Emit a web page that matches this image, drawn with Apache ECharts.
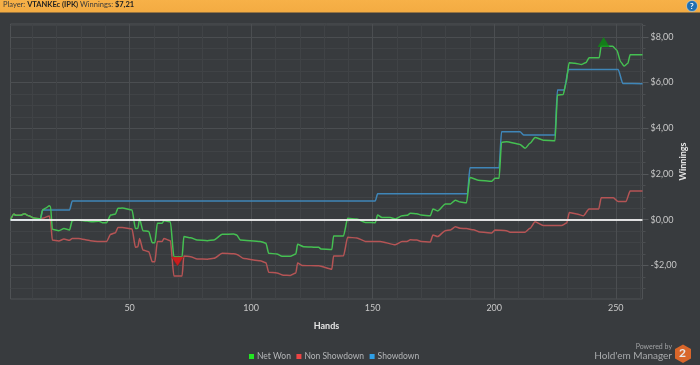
<!DOCTYPE html>
<html>
<head>
<meta charset="utf-8">
<title>Winnings</title>
<style>
    html, body { margin: 0; padding: 0; background: #383b3e; }
    #chart { width: 700px; height: 365px; }
</style>
<script src="https://cdn.jsdelivr.net/npm/echarts@6/dist/echarts.min.js"></script>
</head>
<body>
<div id="chart"></div>
<script>
// values
let netWonHands = [1, 2.4, 3.1, 5.1, 6.8, 8.5, 10.6, 13.3, 14.2, 15.4, 17, 17.5, 18.2, 20.9, 23, 25.3, 26.4, 28.4, 32.5, 34.6, 37.4, 38.7, 40.5, 42.2, 44.2, 45.2, 47, 51, 52.4, 53.4, 54.1, 55.5, 57.9, 59.3, 60.4, 61.4, 63.4, 64.1, 66.8, 68.2, 71.6, 72.3, 75.1, 77.8, 82, 84.7, 88.1, 92.8, 94.1, 95.5, 103.7, 106.1, 107.2, 110.6, 112.7, 116.1, 118.4, 119.1, 121.6, 127.8, 128.7, 133.2, 133.9, 138, 139.7, 143.5, 147, 151.1, 152, 153.8, 157.2, 159.3, 162.1, 164.1, 165.5, 168.2, 169.9, 173.7, 174.8, 176.7, 179.9, 182, 184, 186, 188.6, 190, 193.4, 199, 200.3, 202, 203, 205.1, 210.6, 212.7, 214.7, 216.8, 220.2, 225, 226, 228.4, 229.5, 230.8, 233.2, 236, 237.8, 239, 243.2, 244, 248.7, 250.4, 252, 253.4, 255, 255.9, 261];
let netWon = [0, .25, .19, .19, .26, .17, .07, .04, .42, .5, .61, .57, -.42, -.48, -.39, -.45, -.04, -.01, -.06, -.09, -.07, -.13, -.13, .2, .25, .5, .51, .42, -.39, -.38, .03, -.48, -.52, -1.01, -1.01, -.16, -.16, -.04, -.1, -1.62, -1.62, -.74, -.79, -.89, -.92, -.89, -.64, -.63, -.67, -.89, -.95, -1.03, -1.47, -1.5, -1.6, -1.6, -1.5, -1.08, -1.18, -1.21, -1.28, -1.31, -.71, -.71, .06, .03, -.12, -.13, .2, .1, .09, .03, .17, .19, .28, .26, .2, .17, .47, .38, .69, .69, .85, .77, .74, 1.85, 1.73, 1.68, 1.81, 1.81, 3.38, 3.41, 3.29, 3.12, 3.34, 3.6, 3.48, 3.45, 5.45, 5.48, 5.96, 6.87, 6.84, 6.79, 6.88, 7.08, 7.08, 7.59, 7.59, 7.42, 6.91, 6.72, 6.84, 7.22, 7.22];

let nonShowdownHands = [1, 2.4, 3.1, 5.1, 6.8, 8.5, 10.6, 13.3, 14.2, 17, 17.5, 18.2, 20.9, 23, 25.3, 26.4, 29, 33.9, 37.4, 40.5, 42.2, 44.2, 45.2, 47, 51, 52.4, 53.4, 54.1, 55.5, 57.9, 59.3, 60.4, 61.4, 63.4, 64.1, 66.8, 68.2, 71.6, 72.3, 75.1, 77.8, 82, 84.7, 88.1, 92.8, 94.1, 97, 103.7, 106.1, 107.2, 110.6, 113.3, 116.1, 118.4, 119.1, 120.9, 127.8, 133.2, 133.9, 138, 139.7, 143.5, 147, 153.1, 159.3, 162.1, 164.1, 165.5, 168.2, 169.9, 173.7, 174.8, 176.7, 179.9, 182, 184, 186, 188.6, 191.4, 194.1, 199, 200.3, 205, 206.5, 212.7, 214.7, 216.8, 220.2, 227.7, 229.8, 230.9, 234, 236.7, 239, 243, 244, 249, 251, 254.2, 255.9, 261];
let nonShowdown = [0, .25, .19, .19, .26, .17, .07, .04, .06, .16, -.09, -.89, -.93, -.85, -.9, -.82, -.82, -.92, -.96, -.96, -.64, -.57, -.34, -.34, -.41, -1.21, -1.18, -.82, -1.33, -1.4, -1.84, -1.84, -.96, -.96, -.82, -.92, -2.46, -2.46, -1.59, -1.62, -1.72, -1.73, -1.69, -1.47, -1.49, -1.52, -1.7, -1.8, -1.88, -2.3, -2.33, -2.43, -2.44, -2.33, -1.89, -2, -2.02, -2.17, -1.59, -1.58, -.77, -.8, -.95, -.95, -1.1, -.96, -.95, -.88, -.89, -.95, -.98, -.67, -.74, -.48, -.45, -.31, -.38, -.39, -.44, -.54, -.58, -.45, -.48, -.55, -.55, -.38, -.09, -.25, -.26, -.15, .31, .25, .17, .47, .47, .96, .96, .79, .79, 1.25, 1.25];

let showdownHands = [1, 13.3, 14.2, 25.3, 26.4, 151.1, 152, 189, 190, 202, 203, 210.6, 212.2, 225, 226, 228.8, 230.5, 251, 252.9, 261];
let showdown = [0, 0, .42, .42, .82, .82, 1.13, 1.13, 2.27, 2.27, 3.85, 3.85, 3.7, 3.7, 5.67, 5.67, 6.57, 6.57, 5.96, 5.95];

let bestPoint = [245, 7.77];
let worstPoint = [69.7, -1.83];

let minorHandTicks = [10, 20, 30, 40, 60, 70, 80, 90, 110, 120, 130, 140, 160, 170, 180, 190, 210, 220, 230, 240, 260];
let handTicks = [50, 100, 150, 200, 250];
let minorMoneyTicks = [-3, -2.5, -1.5, -1, -.5, .5, 1, 1.5, 2.5, 3, 3.5, 4.5, 5, 5.5, 6.5, 7, 7.5, 8.5];
let moneyTicks = [-2, 0, 2, 4, 6, 8];

let seriesNames = ['Net Won', 'Non Showdown', 'Showdown'];

let fontName = 'Lato, "Open Sans", sans-serif';

function pairs(xs, ys) {
    return xs.map((x, i) => [x, ys[i]]);
}

function money(v) {
    let text = '$' + Math.abs(v).toFixed(2).replace('.', ',');
    return v < 0 ? '-' + text : text;
}

function lineSeries(name, data, color, lineColor, z) {
    return {
        name: name,
        type: 'line',
        data: data,
        z: z,
        symbol: 'none',
        smooth: 0.2,
        smoothMonotone: 'x',
        itemStyle: { color: color },
        lineStyle: { color: lineColor, width: 1.5, join: 'round' },
        animation: false
    };
}

let minorLine = { show: true, lineStyle: { color: '#404346', width: 1 } };
let majorLine = { show: true, lineStyle: { color: '#4b4e51', width: 1 } };

let xBase = { type: 'value', min: 1, max: 261, position: 'bottom' };
let yBase = { type: 'value', min: -3.47, max: 8.56, position: 'right' };

let showdownLine = lineSeries(seriesNames[2], pairs(showdownHands, showdown), '#2f9fe6', '#3f86b8', 3);
let nonShowdownLine = lineSeries(seriesNames[1], pairs(nonShowdownHands, nonShowdown), '#ee4444', '#b55455', 3);
let netWonLine = lineSeries(seriesNames[0], pairs(netWonHands, netWon), '#22e622', '#45c052', 4);
netWonLine.markLine = {
    silent: true,
    symbol: 'none',
    z: 5,
    label: { show: false },
    lineStyle: { color: '#f2f2f2', width: 2, type: 'solid', opacity: 0.9 },
    data: [{ yAxis: 0 }],
    animation: false
};

let option = {
    backgroundColor: '#383b3e',
    animation: false,
    textStyle: { fontFamily: fontName },
    grid: { left: 10.5, right: 57.5, top: 24, bottom: 66, outerBoundsMode: 'none', show: true, borderColor: '#4f5255', borderWidth: 1, backgroundColor: 'transparent' },
    legend: {
        data: seriesNames,
        left: 244,
        top: 347,
        icon: 'rect',
        itemWidth: 5,
        itemHeight: 5,
        itemGap: 5.5,
        textStyle: { color: '#b4b6b8', fontSize: 8.5, fontFamily: fontName, padding: [0, 0, 0, -2] }
    },
    xAxis: [
        Object.assign({}, xBase, {
            axisLine: { show: false },
            axisTick: { show: true, customValues: minorHandTicks, length: 3, lineStyle: { color: '#4b4e51' } },
            axisLabel: { show: false },
            splitLine: minorLine
        }),
        Object.assign({}, xBase, {
            name: 'Hands',
            nameLocation: 'middle',
            nameGap: 23,
            nameTextStyle: { color: '#e6e6e6', fontSize: 9, fontWeight: 'bold' },
            axisLine: { show: false },
            axisTick: { show: true, customValues: handTicks, length: 4, lineStyle: { color: '#55585b' } },
            axisLabel: { customValues: handTicks, color: '#c8c8c8', fontSize: 9, margin: 5 },
            splitLine: majorLine
        })
    ],
    yAxis: [
        Object.assign({}, yBase, {
            axisLine: { show: false },
            axisTick: { show: true, customValues: minorMoneyTicks, length: 3, lineStyle: { color: '#4b4e51' } },
            axisLabel: { show: false },
            splitLine: minorLine
        }),
        Object.assign({}, yBase, {
            name: 'Winnings',
            nameLocation: 'middle',
            nameRotate: 90,
            nameGap: 36,
            nameMoveOverlap: false,
            nameTextStyle: { color: '#e6e6e6', fontSize: 9, fontWeight: 'bold' },
            axisLine: { show: false },
            axisTick: { show: true, customValues: moneyTicks, length: 6, lineStyle: { color: '#55585b' } },
            axisLabel: { customValues: moneyTicks, formatter: money, color: '#c8c8c8', fontSize: 9, margin: 8 },
            splitLine: majorLine
        })
    ],
    series: [
        netWonLine,
        nonShowdownLine,
        showdownLine,
        {
            type: 'scatter',
            name: 'best',
            data: [bestPoint],
            symbol: 'triangle',
            symbolSize: [12, 10],
            z: 6,
            itemStyle: { color: '#0b8f12' }
        },
        {
            type: 'scatter',
            name: 'worst',
            data: [worstPoint],
            symbol: 'triangle',
            symbolRotate: 180,
            symbolSize: [12, 9],
            z: 6,
            itemStyle: { color: '#f01414', borderColor: '#8a1a1a', borderWidth: 0.5 }
        }
    ],
    graphic: [
        {
            type: 'rect',
            silent: true,
            shape: { x: 0, y: 0, width: 700, height: 12.5 },
            style: {
                fill: new echarts.graphic.LinearGradient(0, 0, 0, 1, [
                    { offset: 0, color: '#f7b148' },
                    { offset: 1, color: '#f3ab42' }
                ])
            }
        },
        {
            type: 'text',
            silent: true,
            left: 3,
            top: 1,
            style: {
                text: '{n|Player: }{b|VTANKEc (IPK)}{n| Winnings: }{b|$7,21}',
                rich: {
                    n: { fontFamily: fontName, fontSize: 7.5, fill: '#3a3a3a', color: '#3a3a3a' },
                    b: { fontFamily: fontName, fontSize: 7.5, fontWeight: 'bold', fill: '#222222', color: '#222222' }
                }
            }
        },
        {
            type: 'circle',
            silent: true,
            shape: { cx: 692, cy: 6, r: 5.5 },
            style: { fill: '#1f6fb0', stroke: '#dfe8ee', lineWidth: 0.5 }
        },
        {
            type: 'text',
            silent: true,
            left: 690,
            top: 2,
            style: { text: '?', fontFamily: fontName, fontSize: 8, fontWeight: 'bold', fill: '#ffffff' }
        },
        {
            type: 'text',
            silent: true,
            right: 28,
            top: 343,
            style: { text: 'Powered by', fontFamily: fontName, fontSize: 7, fill: '#a0a2a4' }
        },
        {
            type: 'text',
            silent: true,
            right: 28,
            top: 351,
            style: { text: "Hold'em Manager", fontFamily: fontName, fontSize: 10, fill: '#a8aaac' }
        },
        {
            type: 'polygon',
            silent: true,
            shape: { points: [[683, 344.5], [691, 349], [691, 358.5], [683, 363], [675, 358.5], [675, 349]] },
            style: { fill: '#d9662a' }
        },
        {
            type: 'text',
            silent: true,
            left: 679,
            top: 347,
            style: { text: '2', fontFamily: fontName, fontSize: 12, fontWeight: 'bold', fill: '#e8e8e8' }
        }
    ]
};

let myChart = echarts.init(document.getElementById('chart'), null, { renderer: 'canvas' });
myChart.setOption(option);
</script>
</body>
</html>
